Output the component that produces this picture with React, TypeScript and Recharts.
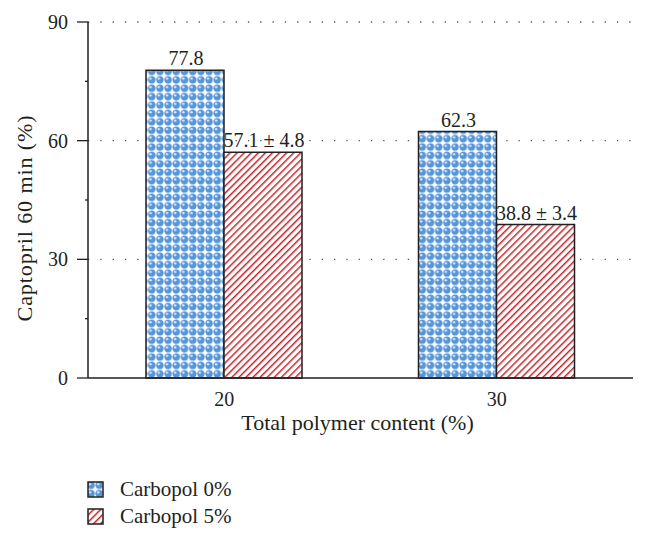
import React from "react";
import { BarChart, Bar, XAxis, YAxis, CartesianGrid, LabelList } from "recharts";

const categories = ["20", "30"];
const carbopol0 = [77.8, 62.3];
const carbopol5 = [57.1, 38.8];
const carbopol0Labels = ["77.8", "62.3"];
const carbopol5Labels = ["57.1 ± 4.8", "38.8 ± 3.4"];
const yTicks = [0, 15, 30, 45, 60, 75, 90];
const yLabeledTicks = [0, 30, 60, 90];
const gridValues = [30, 60, 90];
const seriesNames = ["Carbopol 0%", "Carbopol 5%"];

const data = categories.map((c, i) => ({
  name: c,
  c0: carbopol0[i],
  c5: carbopol5[i],
  l0: carbopol0Labels[i],
  l5: carbopol5Labels[i],
}));

const FONT = "'Liberation Serif', 'DejaVu Serif', serif";
const INK = "#231f20";
const BLUE = "#5595d8";
const RED = "#c0272d";

const Defs = ({ suffix }: { suffix: string }) => (
  <defs>
    <pattern id={"dots" + suffix} patternUnits="userSpaceOnUse" width="8.2" height="8.4">
      <rect width="8.2" height="8.4" fill="#ffffff" />
      <circle cx="4.1" cy="4.2" r="3.8" fill={BLUE} />
      <circle cx="3.0" cy="3.0" r="1.2" fill="#ffffff" opacity="0.8" />
    </pattern>
    <pattern
      id={"hatch" + suffix}
      patternUnits="userSpaceOnUse"
      width="5"
      height="5"
      patternTransform="rotate(45)"
    >
      <rect width="5" height="5" fill="#ffffff" />
      <line x1="0" y1="0" x2="0" y2="5" stroke={RED} strokeWidth="3" />
    </pattern>
  </defs>
);

const YTick = (props: any) => {
  const { x, y, payload } = props;
  const v = payload.value;
  const major = yLabeledTicks.includes(v);
  return (
    <g>
      <line x1={x - (major ? 11 : 3)} x2={x} y1={y} y2={y} stroke={INK} strokeWidth={1.3} />
      {major && (
        <text x={x - 20} y={y + 7} textAnchor="end" fontFamily={FONT} fontSize={20} fill={INK}>
          {v}
        </text>
      )}
    </g>
  );
};

const XTick = (props: any) => {
  const { x, y, payload } = props;
  return (
    <text x={x} y={y + 26} textAnchor="middle" fontFamily={FONT} fontSize={20} fill={INK}>
      {payload.value}
    </text>
  );
};

const makeLabel = (key: "l0" | "l5") => (props: any) => {
  const { x, y, width, index } = props;
  return (
    <text
      x={x + width / 2 + 1}
      y={y - 5}
      textAnchor="middle"
      fontFamily={FONT}
      fontSize={20}
      fill={INK}
    >
      {data[index][key]}
    </text>
  );
};

const LegendSwatch = ({ kind }: { kind: "dots" | "hatch" }) => (
  <svg width={17} height={17} style={{ display: "block" }}>
    <Defs suffix={"-lg-" + kind} />
    <rect x={1} y={1} width={15} height={15} fill={`url(#${kind}-lg-${kind})`} stroke={INK} strokeWidth={1.5} />
  </svg>
);

export default function App() {
  return (
    <div style={{ position: "absolute", left: 0, top: 0, width: 647, height: 542, background: "#fff" }}>
      <BarChart
        width={647}
        height={542}
        data={data}
        margin={{ top: 22, right: 14, bottom: 84, left: 0 }}
        barCategoryGap={58}
        barGap={0}
      >
        <Defs suffix="" />
        <CartesianGrid
          vertical={false}
          horizontalValues={gridValues}
          stroke="#555"
          strokeWidth={1.3}
          strokeDasharray="1.3 11"
        />
        <XAxis
          dataKey="name"
          axisLine={{ stroke: INK, strokeWidth: 1.5 }}
          tickLine={false}
          tickSize={0}
          height={80}
          tick={<XTick />}
          label={{
            content: (p: any) => {
              const vb = p.viewBox;
              return (
                <text
                  x={vb.x + vb.width / 2 - 3}
                  y={430}
                  textAnchor="middle"
                  fontFamily={FONT}
                  fontSize={22}
                  fill={INK}
                >
                  Total polymer content (%)
                </text>
              );
            },
          }}
        />
        <YAxis
          width={88}
          domain={[0, 90]}
          ticks={yTicks}
          interval={0}
          axisLine={{ stroke: INK, strokeWidth: 1.5 }}
          tickLine={false}
          tickSize={0}
          tickMargin={0}
          tick={<YTick />}
          label={{
            content: () => (
              <text
                x={0}
                y={0}
                transform="translate(32 218) rotate(-90)"
                textAnchor="middle"
                fontFamily={FONT}
                fontSize={22}
                letterSpacing={0.9}
                fill={INK}
              >
                Captopril 60 min (%)
              </text>
            ),
          }}
        />
        <Bar dataKey="c0" name={seriesNames[0]} fill="url(#dots)" stroke={INK} strokeWidth={1.5} isAnimationActive={false}>
          <LabelList dataKey="c0" content={makeLabel("l0")} />
        </Bar>
        <Bar dataKey="c5" name={seriesNames[1]} fill="url(#hatch)" stroke={INK} strokeWidth={1.5} isAnimationActive={false}>
          <LabelList dataKey="c5" content={makeLabel("l5")} />
        </Bar>
      </BarChart>
      <div style={{ position: "absolute", left: 87, top: 476, fontFamily: FONT, fontSize: 21, color: INK }}>
        <div style={{ display: "flex", alignItems: "center", height: 27 }}>
          <LegendSwatch kind="dots" />
          <span style={{ marginLeft: 16 }}>{seriesNames[0]}</span>
        </div>
        <div style={{ display: "flex", alignItems: "center", height: 27 }}>
          <LegendSwatch kind="hatch" />
          <span style={{ marginLeft: 16 }}>{seriesNames[1]}</span>
        </div>
      </div>
    </div>
  );
}
